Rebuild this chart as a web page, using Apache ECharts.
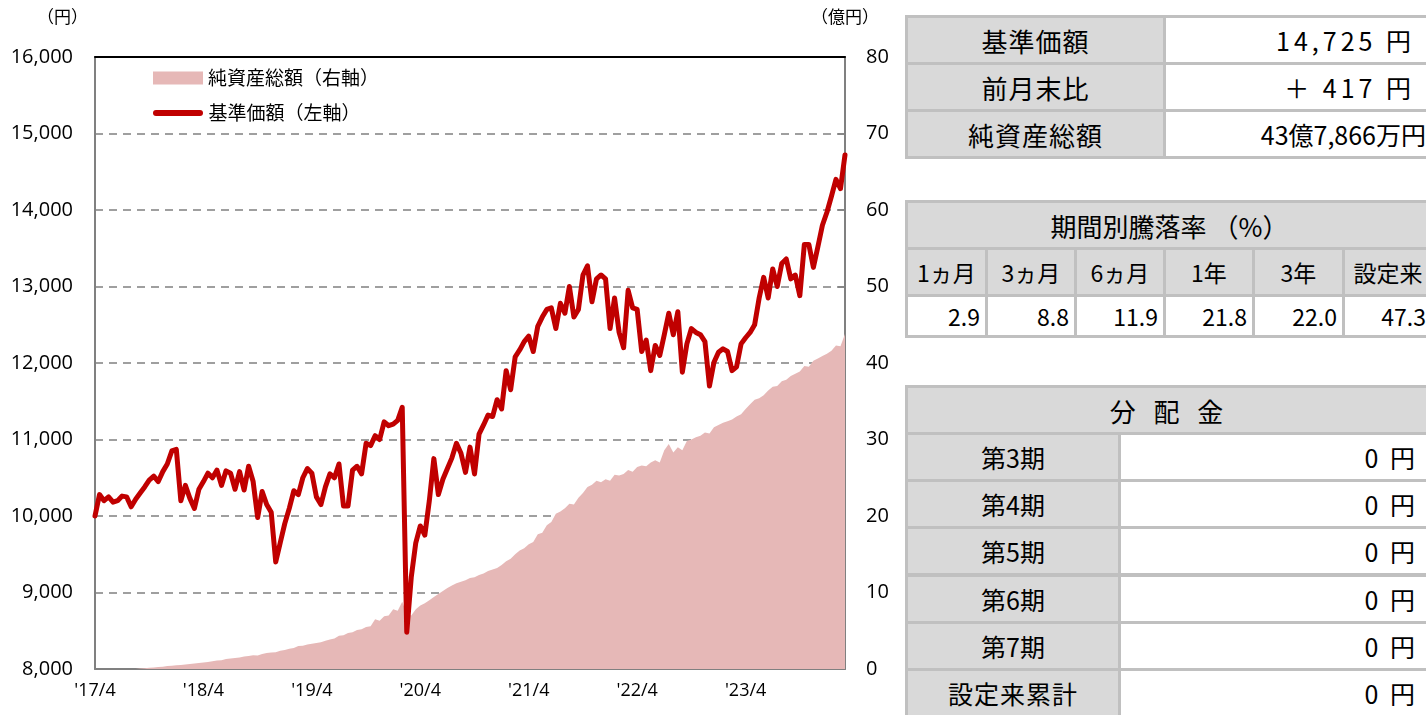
<!DOCTYPE html>
<html><head><meta charset="utf-8">
<script src="https://cdn.jsdelivr.net/npm/echarts@6/dist/echarts.min.js"></script>
<style>
html,body{margin:0;padding:0;background:#fff;width:1426px;height:715px;overflow:hidden;}
#chart{position:absolute;left:0;top:0;width:1426px;height:715px;}
.tbl{position:absolute;background:#c0c0c0;}
.cell{position:absolute;box-sizing:border-box;font-family:"Noto Sans CJK JP";color:#000;display:flex;align-items:center;white-space:nowrap;overflow:hidden;}
.g{background:#d9d9d9;justify-content:center;}
.w{background:#fff;justify-content:flex-end;}
</style></head><body>
<div id="chart"></div>
<div id="tables"></div>
<script>
// ---- chart data (semi-monthly, from 2017/4) ----
const navValues = [
10000,10280,10200,10250,10180,10200,10260,10250,10120,10220,
10300,10380,10470,10520,10450,10580,10680,10850,10870,10200,
10400,10230,10100,10350,10450,10560,10500,10600,10400,10590,
10560,10350,10580,10340,10650,10450,9980,10320,10150,10050,
9400,9650,9900,10100,10330,10280,10500,10620,10560,10250,
10150,10380,10550,10500,10680,10130,10130,10600,10650,10550,
10950,10920,11050,11000,11230,11180,11200,11250,11420,8480,
9200,9650,9870,9750,10200,10750,10280,10480,10620,10760,
10950,10820,10570,10900,10550,11070,11190,11320,11300,11520,
11400,11900,11650,12080,12170,12280,12350,12150,12480,12600,
12700,12720,12450,12780,12650,13000,12600,12700,13150,13270,
12800,13100,13150,13100,12450,12850,12400,12200,12950,12720,
12700,12150,12300,11900,12230,12100,12370,12650,12370,12670,
11880,12250,12450,12400,12370,12280,11700,12010,12140,12185,
12150,11900,11950,12250,12330,12400,12500,12850,13120,12850,
13230,13000,13300,13360,13100,13150,12880,13550,13550,13250,
13520,13800,13970,14180,14400,14280,14720
];
const netAssets = [
0,0,0,0,0,0,0,0,0,0,
0.05,0.1,0.15,0.2,0.25,0.3,0.38,0.44,0.5,0.52,
0.6,0.65,0.72,0.8,0.85,0.92,1.0,1.1,1.15,1.3,
1.38,1.45,1.5,1.62,1.7,1.8,1.75,1.95,2.1,2.15,
2.2,2.4,2.5,2.65,2.75,3.0,3.05,3.2,3.3,3.4,
3.5,3.7,3.85,4.0,4.35,4.4,4.7,4.8,5.1,5.2,
5.5,5.6,6.5,6.3,6.9,7.0,7.8,7.6,8.8,7.2,
7.0,7.8,8.3,8.6,9.0,9.4,9.8,10.2,10.6,10.9,
11.2,11.4,11.6,11.9,12.0,12.3,12.5,12.8,13.0,13.2,
13.6,14.1,14.4,15.0,15.5,15.8,16.3,16.6,17.6,17.8,
18.8,19.2,20.3,20.6,21.0,21.6,21.5,22.4,23.0,23.8,
24.1,24.6,24.4,24.8,24.6,25.4,25.3,25.5,26.0,25.8,
26.4,26.6,26.5,27.0,27.3,27.0,28.6,29.4,28.3,29.0,
28.6,29.8,30.0,30.3,30.5,30.9,30.8,31.6,31.9,32.2,
32.4,32.6,33.0,33.3,34.0,34.6,35.2,35.4,35.8,36.4,
36.9,37.0,37.6,37.8,38.3,38.6,38.9,39.6,39.5,40.3,
40.6,40.9,41.2,41.6,42.3,42.2,43.8
];
const dates = [];
for (let i = 0; i < navValues.length; i++) {
  const m = 3 + Math.floor(i / 2);
  const y = 2017 + Math.floor(m / 12);
  const mm = (m % 12) + 1;
  dates.push(y + '-' + String(mm).padStart(2, '0') + '-' + (i % 2 === 0 ? '01' : '16'));
}
const leftTicks = { min: 8000, max: 16000, interval: 1000 };
const rightTicks = { min: 0, max: 80, interval: 10 };
const seriesNames = ['純資産総額（右軸）', '基準価額（左軸）'];
const unitLabels = ['（円）', '（億円）'];

// ---- table data ----
const summaryLabels = ['基準価額', '前月末比', '純資産総額'];
const summaryValues = ['14,725 円', '＋ 417 円', '43億7,866万円'];
const periodTitle = '期間別騰落率 （%）';
const periodLabels = ['1ヵ月', '3ヵ月', '6ヵ月', '1年', '3年', '設定来'];
const periodReturns = ['2.9', '8.8', '11.9', '21.8', '22.0', '47.3'];
const distTitle = '分 配 金';
const distLabels = ['第3期', '第4期', '第5期', '第6期', '第7期', '設定来累計'];
const distValues = ['0 円', '0 円', '0 円', '0 円', '0 円', '0 円'];

const FONT = 'Noto Sans CJK JP';
const NUMFONT = 'Open Sans';
const chart = echarts.init(document.getElementById('chart'));
chart.setOption({
  animation: false,
  backgroundColor: '#fff',
  grid: { left: 95, right: 581, top: 57, bottom: 46, containLabel: false, outerBoundsMode: 'none' },
  graphic: [
    { type: 'text', left: 37, top: 8, style: { text: unitLabels[0], fontSize: 17, fontFamily: FONT, fill: '#000' } },
    { type: 'text', left: 811, top: 8, style: { text: unitLabels[1], fontSize: 17, fontFamily: FONT, fill: '#000' } }
  ],
  legend: [
    { data: [{ name: seriesNames[0], icon: 'rect' }], left: 153, top: 68, padding: 0, itemWidth: 50, itemHeight: 13,
      selectedMode: false, textStyle: { fontFamily: FONT, fontSize: 19, color: '#000', lineHeight: 20 } },
    { data: [{ name: seriesNames[1], icon: 'path://M3,0L47,0A3,3,0,0,1,47,6L3,6A3,3,0,0,1,3,0Z' }], left: 153, top: 103, padding: 0,
      itemWidth: 51, itemHeight: 6, selectedMode: false, textStyle: { fontFamily: FONT, fontSize: 19, color: '#000', lineHeight: 20 } }
  ],
  xAxis: [
    { type: 'category', data: dates, boundaryGap: false,
      axisLine: { lineStyle: { color: '#808080', width: 2 } }, axisTick: { show: false },
      axisLabel: { show: true, interval: function (idx) { return idx % 24 === 0; }, margin: 13,
        fontSize: 18, fontFamily: NUMFONT, color: '#000',
        formatter: function (v) { const p = v.split('-'); return "'" + p[0].slice(2) + '/' + parseInt(p[1], 10); } },
      splitLine: { show: false } },
    { type: 'category', data: dates, boundaryGap: false, position: 'top', z: 1,
      axisLine: { lineStyle: { color: '#000', width: 2 } }, axisTick: { show: false }, axisLabel: { show: false }, splitLine: { show: false } }
  ],
  yAxis: [
    { type: 'value', min: leftTicks.min, max: leftTicks.max, interval: leftTicks.interval, position: 'left',
      axisLine: { show: true, lineStyle: { color: '#808080', width: 2 } }, axisTick: { show: false },
      axisLabel: { margin: 22, fontSize: 20, fontFamily: NUMFONT, color: '#000', formatter: function (v) { return v.toLocaleString('en-US'); } },
      splitLine: { show: true, lineStyle: { color: '#808080', width: 1.5, type: [8, 6] } } },
    { type: 'value', min: rightTicks.min, max: rightTicks.max, interval: rightTicks.interval, position: 'right',
      axisLine: { show: true, lineStyle: { color: '#808080', width: 2 } },
      axisTick: { show: true, inside: true, length: 7, lineStyle: { color: '#808080', width: 1.5 } },
      axisLabel: { margin: 21, fontSize: 20, fontFamily: NUMFONT, color: '#000' },
      splitLine: { show: false } }
  ],
  series: [
    { name: seriesNames[0], type: 'line', xAxisIndex: 0, yAxisIndex: 1, data: netAssets, symbol: 'none', silent: true,
      lineStyle: { width: 0, color: '#e6b8b7' }, itemStyle: { color: '#e6b8b7' },
      areaStyle: { color: '#e6b8b7', opacity: 1 }, z: 1 },
    { name: seriesNames[1], type: 'line', xAxisIndex: 0, yAxisIndex: 0, data: navValues, symbol: 'none', silent: true,
      lineStyle: { width: 5, color: '#c00000', cap: 'round', join: 'round' }, itemStyle: { color: '#c00000' }, z: 3 }
  ]
});

// ---- tables ----
const host = document.getElementById('tables');
function box(x, y, w, h) {
  const d = document.createElement('div');
  d.className = 'tbl';
  d.style.left = x + 'px'; d.style.top = y + 'px'; d.style.width = w + 'px'; d.style.height = h + 'px';
  host.appendChild(d); return d;
}
function cell(parent, x, y, w, h, text, cls, css) {
  const d = document.createElement('div');
  d.className = 'cell ' + cls;
  d.style.left = x + 'px'; d.style.top = y + 'px'; d.style.width = w + 'px'; d.style.height = h + 'px';
  Object.assign(d.style, css || {});
  d.textContent = text;
  parent.appendChild(d); return d;
}
// table 1
const t1 = box(905, 15, 526, 144);
summaryLabels.forEach(function (lab, r) {
  const top = 3 + r * 47;
  cell(t1, 3, top, 255, 44, lab, 'g', { fontSize: '26px', letterSpacing: '1px' });
  cell(t1, 261, top, 265, 44, summaryValues[r], 'w',
    r < 2 ? { fontSize: '25px', letterSpacing: '4px', paddingRight: '16px' } : { fontSize: '25px', paddingRight: '5px' });
});
// table 2
const t2 = box(905, 200, 526, 138);
cell(t2, 3, 3, 523, 44, periodTitle, 'g', { fontSize: '26px' });
const bx = [0, 80, 169, 258, 347, 437, 526];
periodLabels.forEach(function (lab, c) {
  const x = bx[c] + 3, w = bx[c + 1] - bx[c] - 3;
  cell(t2, x, 50, w, 44, lab, 'g', { fontSize: '23px' });
  cell(t2, x, 97, w, 38, periodReturns[c], 'w', { fontSize: '23px', paddingRight: '5px' });
});
// table 3
const t3 = box(905, 385, 526, 340);
cell(t3, 3, 3, 523, 44, distTitle, 'g', { fontSize: '26px', letterSpacing: '6px' });
distLabels.forEach(function (lab, r) {
  const top = Math.round(50 + r * 47.2);
  cell(t3, 3, top, 210, 44, lab, 'g', { fontSize: '25px', letterSpacing: lab.length > 3 ? '1px' : '0px' });
  cell(t3, 216, top, 310, 44, distValues[r], 'w', { fontSize: '25px', letterSpacing: '3px', paddingRight: '13px' });
});
</script>
</body></html>
